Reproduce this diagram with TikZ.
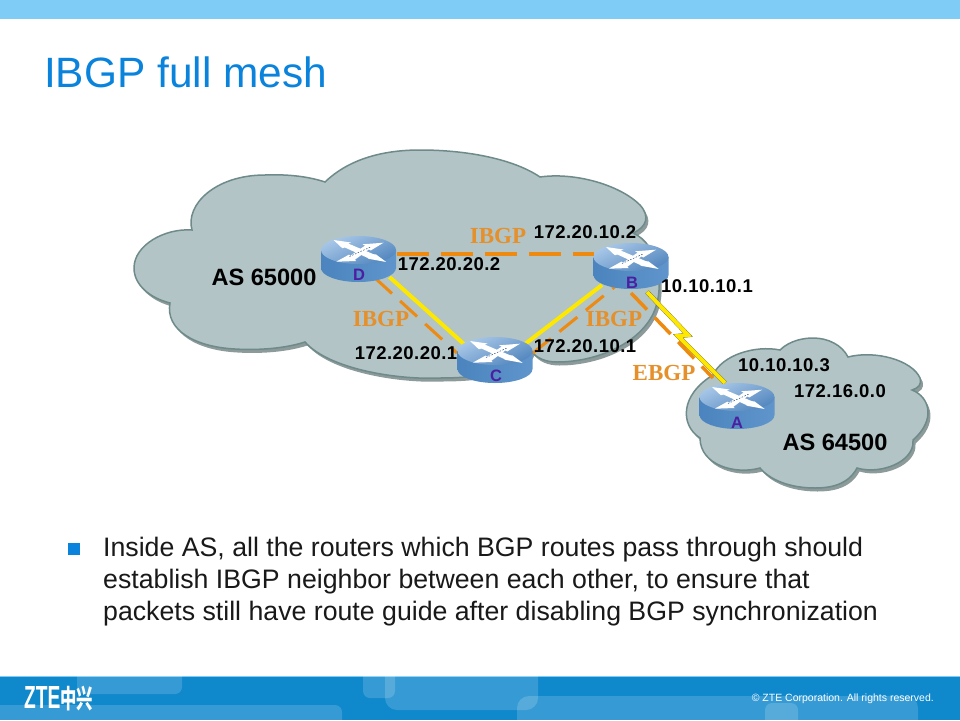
\documentclass[tikz,border=0pt]{standalone}
\usepackage{fontspec}
\setmainfont{Liberation Sans}
\newfontfamily\timesf{Liberation Serif}
\newfontfamily\cjkf{Noto Sans CJK SC}
\newfontfamily\addrf[LetterSpace=2.5]{Liberation Sans}
\usetikzlibrary{shapes.geometric,calc}
\definecolor{bandlight}{HTML}{7FCDF6}
\definecolor{footblue}{HTML}{1088CC}
\definecolor{titleblue}{HTML}{0A83DC}
\definecolor{cloudfill}{HTML}{B2C4C6}
\definecolor{cloudedge}{HTML}{6F8A8A}
\definecolor{cloudshadow}{HTML}{8C9A9A}
\definecolor{linkorange}{HTML}{EE8A10}
\definecolor{linkyellow}{HTML}{FFE800}
\definecolor{labelorange}{HTML}{E5902A}
\definecolor{routerletter}{HTML}{4B1FA0}
\definecolor{sideA}{HTML}{4B84BE}
\definecolor{sideB}{HTML}{2A66A6}
\definecolor{sideC}{HTML}{5F95CB}
\definecolor{topA}{HTML}{A9C8E8}
\definecolor{topB}{HTML}{5286BE}
\tikzset{
  addr/.style={font=\addrf\fontsize{18.5}{21}\selectfont\bfseries,text=black,inner sep=0pt},
  aslabel/.style={font=\fontsize{23.6}{25}\selectfont\bfseries,text=black,inner sep=0pt},
  peer/.style={font=\timesf\fontsize{23}{25}\selectfont\bfseries,text=labelorange,inner sep=0pt},
  letter/.style={font=\fontsize{16.5}{18}\selectfont\bfseries,text=routerletter,inner sep=0pt},
  dashtop/.style={draw=linkorange,line width=4pt,dash pattern=on 32pt off 12pt},
  dashlink/.style={draw=linkorange,line width=3pt,dash pattern=on 23pt off 11pt},
  solidlink/.style={draw=linkyellow,line width=4pt},
  hub/.style={ellipse,minimum width=76pt,minimum height=44pt,inner sep=0pt},
  glass/.style={fill=white,fill opacity=0.16,rounded corners=7pt},
  cloudbody/.style={fill=cloudfill,draw=cloudedge,line width=1.5pt}
}
\newcommand{\bigcloudpath}{(325,182) .. controls (350,158) and (385,150) .. (420,150)
  .. controls (470,150) and (515,160) .. (540,177)
  .. controls (575,172) and (620,185) .. (640,205)
  .. controls (650,216) and (647,227) .. (633,233)
  .. controls (660,245) and (662,285) .. (657,303)
  .. controls (648,340) and (600,362) .. (557,362)
  .. controls (545,362) and (537,358) .. (532,352)
  .. controls (525,368) and (490,378) .. (440,378)
  .. controls (400,380) and (330,370) .. (305,342)
  .. controls (280,350) and (250,350) .. (235,349)
  .. controls (195,347) and (165,330) .. (170,303)
  .. controls (150,298) and (134,285) .. (134,268)
  .. controls (134,245) and (165,228) .. (192,230)
  .. controls (185,205) and (215,175) .. (265,175)
  .. controls (290,174) and (310,177) .. cycle}
\newcommand{\smallcloudpath}{(713,375) .. controls (722,355) and (755,345) .. (780,350)
  .. controls (790,340) and (805,338) .. (813,338)
  .. controls (828,338) and (842,345) .. (848,357)
  .. controls (875,350) and (912,360) .. (920,378)
  .. controls (922,385) and (918,388) .. (912,390)
  .. controls (930,397) and (936,420) .. (913,440)
  .. controls (915,462) and (880,475) .. (857,468)
  .. controls (848,485) and (830,488) .. (815,488)
  .. controls (790,488) and (770,480) .. (760,468)
  .. controls (735,475) and (700,465) .. (700,438)
  .. controls (680,425) and (680,395) .. cycle}
\newcommand{\routerglyph}[2]{%
  \begin{scope}[shift={(#1,#2)},x=1pt,y=-1pt]
    \shade[left color=sideA,middle color=sideB,right color=sideC]
      (-37.5,0) -- (-37.5,18) .. controls (-37.5,26) and (-20,32) .. (0,32)
      .. controls (20,32) and (37.5,26) .. (37.5,18) -- (37.5,0) -- cycle;
    \shade[shading=axis,top color=topA,bottom color=topB,shading angle=25]
      (0,0) ellipse [x radius=37.5pt,y radius=14pt];
    \fill[white] (25,-7.3) -- (4,-5.7) -- (6.6,-4.4) -- (-8,5.6) -- (-9.5,4.6) -- (-22.3,11.7) -- (-2.5,11) -- (-3.7,9.8) -- (10.4,-0.6) -- (12.2,0.5) -- cycle;
    \fill[white] (-25,-10) -- (-7.5,-7.5) -- (-10.4,-6.5) -- (15,4.2) -- (17.5,4.4) -- (27.7,12) -- (9,8.6) -- (11.5,9) -- (-13.6,-2.5) -- (-16.2,-1.8) -- cycle;
    \draw[sideB!70!black,line width=0.5pt,dash pattern=on 1.5pt off 1.5pt] (-9,6.5) -- (12,-3);
  \end{scope}}
\begin{document}
\begin{tikzpicture}[x=1pt,y=-1pt]
\useasboundingbox (0,0) rectangle (960,720);
\fill[white] (0,0) rectangle (960,720);
% bands
\fill[bandlight] (0,0) rectangle (960,19);
\fill[footblue] (0,676) rectangle (960,720);
\fill[bandlight] (0,675.5) rectangle (960,676.5);
\begin{scope}
  \clip (0,676.5) rectangle (960,720);
  \fill[glass] (77,660) rectangle (182,694);
  \fill[glass] (-20,705) rectangle (342,740);
  \fill[glass] (363,660) rectangle (395,698);
  \fill[glass,rounded corners=12pt] (385,660) rectangle (538,710);
  \fill[glass,rounded corners=12pt] (517,696) rectangle (918,740);
  \fill[glass] (765,703) rectangle (798,740);
\end{scope}
\node[anchor=west,inner sep=0pt,text=white] (logo) at (24,698.5) {\scalebox{0.6}[1]{\fontsize{32}{32}\selectfont\bfseries ZTE}\scalebox{0.63}[1]{\cjkf\fontsize{26}{26}\selectfont\bfseries 中兴}};
\node[anchor=east,inner sep=0pt,text=white,font=\fontsize{10.5}{12}\selectfont] (copy) at (934,699) {© ZTE Corporation. All rights reserved.};
% title
\node[anchor=base west,inner sep=0pt,text=titleblue,font=\fontsize{42.4}{46}\selectfont] (title) at (44,87) {IBGP full mesh};
% clouds
\fill[cloudshadow,shift={(2.5,3.5)}] \bigcloudpath;
\fill[cloudshadow,shift={(2.5,3.5)}] \smallcloudpath;
\path[cloudbody] \bigcloudpath;
\path[cloudbody] \smallcloudpath;
% router anchors
\node[hub] (D) at (358.5,259) {};
\node[hub] (C) at (495,360) {};
\node[hub] (B) at (631,266) {};
\node[hub] (A) at (737,406) {};
% solid links
\draw[solidlink] ([shift={(31,18)}]D.center) -- ([shift={(-30,-15)}]C.center);
\draw[solidlink] ([shift={(30,-16)}]C.center) -- ([shift={(-29,19)}]B.center);
% lightning
\coordinate (z1) at (688,335);
\coordinate (z2) at (678,336);
\draw[black!85!yellow,line width=4.4pt,miter limit=4,shift={(1,0.6)}] ([shift={(16,26)}]B.center) -- (z1) -- (z2) -- ([shift={(-12,-23)}]A.center);
\draw[linkyellow,line width=4pt,miter limit=4] ([shift={(16,26)}]B.center) -- (z1) -- (z2) -- ([shift={(-12,-23)}]A.center);
% dashed links
\draw[dashtop] ([shift={(38.5,-5.5)}]D.center) -- ([shift={(-37,-12.5)}]B.center);
\draw[dashlink] ([shift={(16.5,19)}]D.center) -- ([shift={(-38,-7)}]C.center);
\draw[dashlink] ([shift={(38,-7)}]C.center) -- ([shift={(-14,19)}]B.center);
\draw[dashlink,line width=3.5pt] ([shift={(0,27)}]B.center) -- ([shift={(-24,-28)}]A.center);
% routers
\routerglyph{358.5}{250}
\routerglyph{495}{351}
\routerglyph{631}{257}
\routerglyph{737}{397}
\node[letter] (dl) at (359,275) {D};
\node[letter] (cl) at (496,376) {C};
\node[letter] (bl) at (632,283) {B};
\node[letter] (al) at (737,423) {A};
% labels
\node[addr] (n1) at (585,232) {172.20.10.2};
\node[addr] (n2) at (449,264) {172.20.20.2};
\node[addr] (n3) at (707,286) {10.10.10.1};
\node[addr] (n4) at (585,346) {172.20.10.1};
\node[addr] (n5) at (406,353) {172.20.20.1};
\node[addr] (n6) at (784,365) {10.10.10.3};
\node[addr] (n7) at (840,391) {172.16.0.0};
\node[aslabel] (as1) at (264,277) {AS 65000};
\node[aslabel] (as2) at (835,442) {AS 64500};
\node[peer] (p1) at (498,236) {IBGP};
\node[peer] (p2) at (381,319) {IBGP};
\node[peer] (p3) at (614,319) {IBGP};
\node[peer] (p4) at (664,373) {EBGP};
% bullet
\fill[titleblue] (68,543) rectangle (80,555);
\node[anchor=north west,inner sep=0pt,align=left,text=black!90,font=\fontsize{26.7}{32}\selectfont] (body) at (103,537) {Inside AS, all the routers which BGP routes pass through should\\establish IBGP neighbor between each other, to ensure that\\packets still have route guide after disabling BGP synchronization};
\end{tikzpicture}
\end{document}
